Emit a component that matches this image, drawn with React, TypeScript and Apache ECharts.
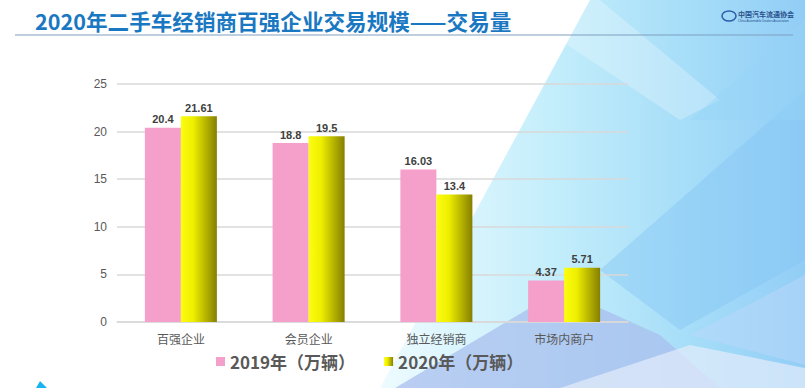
import React, { useEffect, useRef } from "react";
import * as echarts from "echarts";

const categories = ["百强企业", "会员企业", "独立经销商", "市场内商户"];
const seriesNames = ["2019年（万辆）", "2020年（万辆）"];
const values2019 = [20.4, 18.8, 16.03, 4.37];
const values2020 = [21.61, 19.5, 13.4, 5.71];
const yTicks = { min: 0, max: 25, interval: 5 };
const titleText = "2020年二手车经销商百强企业交易规模——交易量";
const logoText = "中国汽车流通协会";
const logoSub = "China Automobile Dealers Association";

export default function App() {
  const ref = useRef<HTMLDivElement>(null);
  useEffect(() => {
    if (!ref.current) return;
    const chart = echarts.init(ref.current, null, { renderer: "svg" });
    const yellow = new echarts.graphic.LinearGradient(0, 0, 1, 0, [
      { offset: 0, color: "#fdfd10" },
      { offset: 0.35, color: "#eeee00" },
      { offset: 1, color: "#857f00" },
    ]);
    const labelStyle = {
      show: true,
      position: "top" as const,
      distance: 3,
      fontSize: 11,
      fontWeight: "bold" as const,
      color: "#404040",
      fontFamily: "Arial, Liberation Sans, sans-serif",
    };
    chart.setOption({
      animation: false,
      backgroundColor: "#ffffff",
      graphic: [
        {
          type: "polygon", z: -10, silent: true,
          shape: { points: [[590, 0], [805, 0], [805, 388], [380, 388]] },
          style: {
            fill: new echarts.graphic.LinearGradient(0, 0, 1, 0, [
              { offset: 0, color: "#eefbff" },
              { offset: 0.4, color: "#c4eefb" },
              { offset: 0.75, color: "#a4dcf8" },
              { offset: 1, color: "#92cdf6" },
            ]),
          },
        },
        {
          type: "polygon", z: -9, silent: true,
          shape: { points: [[500, 0], [600, 0], [720, 100], [680, 120]] },
          style: { fill: "#ffffff", opacity: 0.25 },
        },
        {
          type: "polygon", z: -9, silent: true,
          shape: { points: [[600, 270], [805, 90], [805, 260], [680, 330]] },
          style: { fill: "#86c5f4", opacity: 0.45 },
        },
        {
          type: "polygon", z: -9, silent: true,
          shape: { points: [[690, 120], [805, 20], [805, 120]] },
          style: { fill: "#95d4f7", opacity: 0.4 },
        },
        {
          type: "polygon", z: -9, silent: true,
          shape: { points: [[395, 388], [560, 290], [660, 335], [720, 388]] },
          style: { fill: "#aabfee", opacity: 0.75 },
        },
        {
          type: "polygon", z: -8, silent: true,
          shape: { points: [[560, 388], [690, 345], [805, 368], [805, 388]] },
          style: { fill: "#e4ecfb", opacity: 0.7 },
        },
        {
          type: "polygon", z: -8, silent: true,
          shape: { points: [[690, 335], [805, 275], [805, 365]] },
          style: { fill: "#bcd8fa", opacity: 0.5 },
        },
        {
          type: "polygon", z: -8, silent: true,
          shape: { points: [[36, 388], [40, 381], [47, 388]] },
          style: { fill: "#19b4f0" },
        },
        {
          type: "line", z: 1, silent: true,
          shape: { x1: 15, y1: 35, x2: 793, y2: 35 },
          style: { stroke: "#7f9fc0", lineWidth: 1 },
        },
        {
          type: "text", left: 35, top: 10, z: 5,
          style: {
            text: titleText,
            fontSize: 21.6,
            fontWeight: "bold",
            fill: "#1a78c2",
            fontFamily: "Noto Sans CJK SC, sans-serif",
          },
        },
        {
          type: "ellipse", z: 5, silent: true,
          shape: { cx: 729, cy: 16, rx: 7, ry: 5 },
          style: { fill: "none", stroke: "#2a5fa8", lineWidth: 1.5 },
        },
        {
          type: "text", left: 738, top: 10, z: 5,
          style: {
            text: logoText,
            fontSize: 7,
            fontWeight: "bold",
            fill: "#2a4f8a",
            fontFamily: "Noto Sans CJK SC, serif",
          },
        },
        {
          type: "text", left: 738, top: 19, z: 5,
          style: {
            text: logoSub,
            fontSize: 3,
            fill: "#2a4f8a",
            fontFamily: "Liberation Sans, sans-serif",
          },
        },
      ],
      legend: {
        data: seriesNames,
        left: 211,
        top: 348,
        icon: "rect",
        itemWidth: 9,
        itemHeight: 9,
        itemGap: 29,
        textStyle: {
          fontSize: 17,
          fontWeight: "bold",
          color: "#595959",
          fontFamily: "Noto Sans CJK SC, sans-serif",
        },
      },
      grid: { left: 117, right: 177, top: 84, bottom: 66, containLabel: false },
      xAxis: {
        type: "category",
        data: categories,
        axisLine: { show: true, lineStyle: { color: "#d9d9d9", width: 1.5 } },
        axisTick: { show: false },
        axisLabel: {
          margin: 10,
          fontSize: 12,
          color: "#595959",
          fontFamily: "Noto Sans CJK SC, sans-serif",
        },
      },
      yAxis: {
        type: "value",
        min: yTicks.min,
        max: yTicks.max,
        interval: yTicks.interval,
        axisLine: { show: false },
        axisTick: { show: false },
        splitLine: { lineStyle: { color: "#d9d9d9", width: 1.5 } },
        axisLabel: {
          margin: 10,
          fontSize: 12,
          color: "#595959",
          fontFamily: "Liberation Sans, Arial, sans-serif",
        },
      },
      series: [
        {
          name: seriesNames[0],
          type: "bar",
          data: values2019,
          barWidth: 36,
          barGap: "0%",
          itemStyle: { color: "#f59fcb" },
          label: labelStyle,
        },
        {
          name: seriesNames[1],
          type: "bar",
          data: values2020,
          barWidth: 36,
          barGap: "0%",
          itemStyle: { color: yellow },
          label: labelStyle,
        },
      ],
    });
    return () => chart.dispose();
  }, []);
  return (
    <div
      ref={ref}
      style={{ position: "absolute", left: 0, top: 0, width: 805, height: 388 }}
    />
  );
}
